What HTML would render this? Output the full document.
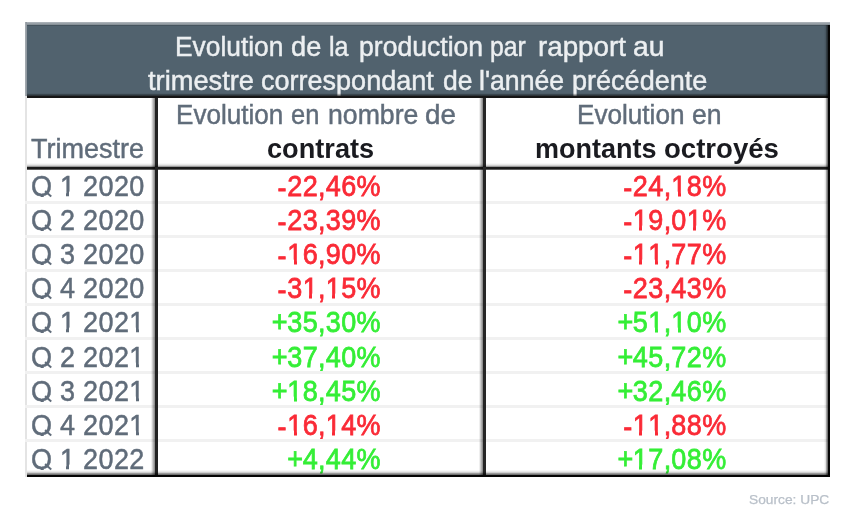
<!DOCTYPE html>
<html><head><meta charset="utf-8"><style>
html,body{margin:0;padding:0;background:#fff;width:843px;height:528px;overflow:hidden;}
body{position:relative;font-family:"Liberation Sans",sans-serif;}
.t{position:absolute;white-space:nowrap;line-height:1;transform-origin:0 0;-webkit-text-stroke:0.45px currentColor;}
body{filter:blur(0.7px);}
.r{position:absolute;}
.o{position:relative;}
.c{display:inline-block;}
.h{position:relative;top:2px;}
.q{position:relative;}
.q::after{content:"";position:absolute;background:#fff;left:8px;width:14px;height:6px;bottom:var(--qb,-1.6px);}
.q::before{content:"";position:absolute;background:currentColor;left:13.4px;width:8.2px;height:2.4px;bottom:var(--qt,5.4px);transform:rotate(39deg);z-index:1;}
.o::before,.o::after{content:"";position:absolute;background:#fff;height:4.6px;bottom:4.4px;}
.o::before{left:0.4px;width:6.05px;}
.o::after{left:9.5px;width:5.4px;}
</style></head><body>
<div class="r" style="left:25px;top:22px;width:805px;height:74px;background:#51626e;"></div>
<div class="r" style="left:25px;top:25px;width:805px;height:1px;background:#46545e;"></div>
<div class="r" style="left:25px;top:22px;width:805px;height:3px;background:linear-gradient(to bottom,#b2b8bd,#7f8991);"></div>
<div class="r" style="left:25px;top:22px;width:2px;height:74px;background:linear-gradient(to right,#a9afb5,#8a939a);"></div>
<div class="r" style="left:25px;top:96px;width:2px;height:381px;background:#e4e4e4;"></div>
<div class="t" style="left:175.24px;top:33.94px;font-size:27px;color:#eceff1;font-weight:normal;transform-origin:0 22.86px;transform:scale(0.9757,1.05);">Evolution</div>
<div class="t" style="left:290.76px;top:33.94px;font-size:27px;color:#eceff1;font-weight:normal;transform-origin:0 22.86px;transform:scale(1.0073,1.05);">de</div>
<div class="t" style="left:329.41px;top:33.94px;font-size:27px;color:#eceff1;font-weight:normal;transform-origin:0 22.86px;transform:scale(0.9273,1.05);">la</div>
<div class="t" style="left:358.59px;top:33.94px;font-size:27px;color:#eceff1;font-weight:normal;transform-origin:0 22.86px;transform:scale(0.9845,1.05);">production</div>
<div class="t" style="left:490.40px;top:33.94px;font-size:27px;color:#eceff1;font-weight:normal;transform-origin:0 22.86px;transform:scale(0.9176,1.05);">par</div>
<div class="t" style="left:537.56px;top:33.94px;font-size:27px;color:#eceff1;font-weight:normal;transform-origin:0 22.86px;transform:scale(1.028,1.05);">rapport</div>
<div class="t" style="left:633.00px;top:33.94px;font-size:27px;color:#eceff1;font-weight:normal;transform-origin:0 22.86px;transform:scale(1.0483,1.05);">au</div>
<div class="t" style="left:148.09px;top:67.94px;font-size:27px;color:#eceff1;font-weight:normal;transform-origin:0 22.86px;transform:scale(1.0097,1.05);">trimestre</div>
<div class="t" style="left:261.25px;top:67.94px;font-size:27px;color:#eceff1;font-weight:normal;transform-origin:0 22.86px;transform:scale(1.0008,1.05);">correspondant</div>
<div class="t" style="left:442.89px;top:67.94px;font-size:27px;color:#eceff1;font-weight:normal;transform-origin:0 22.86px;transform:scale(0.982,1.05);">de</div>
<div class="t" style="left:479.11px;top:67.94px;font-size:27px;color:#eceff1;font-weight:normal;transform-origin:0 22.86px;transform:scale(0.9866,1.05);">l'année</div>
<div class="t" style="left:572.46px;top:67.94px;font-size:27px;color:#eceff1;font-weight:normal;transform-origin:0 22.86px;transform:scale(1.0018,1.05);">précédente</div>
<div class="t" style="left:31.00px;top:136.24px;font-size:27px;color:#606c7a;font-weight:normal;transform-origin:0 22.86px;transform:scale(1.0,1.05);">Trimestre</div>
<div class="t" style="left:175.86px;top:102.24px;font-size:27px;color:#606c7a;font-weight:normal;transform-origin:0 22.86px;transform:scale(0.9654,1.05);">Evolution</div>
<div class="t" style="left:291.22px;top:102.24px;font-size:27px;color:#606c7a;font-weight:normal;transform-origin:0 22.86px;transform:scale(0.9435,1.05);">en</div>
<div class="t" style="left:327.53px;top:102.24px;font-size:27px;color:#606c7a;font-weight:normal;transform-origin:0 22.86px;transform:scale(0.987,1.05);">nombre</div>
<div class="t" style="left:425.43px;top:102.24px;font-size:27px;color:#606c7a;font-weight:normal;transform-origin:0 22.86px;transform:scale(1.0289,1.05);">de</div>
<div class="t" style="left:266.84px;top:135.54px;font-size:27px;color:#1a1b20;font-weight:bold;transform-origin:0 22.86px;transform:scale(1.0061,1.05);-webkit-text-stroke:0px currentColor;">contrats</div>
<div class="t" style="left:576.96px;top:102.24px;font-size:27px;color:#606c7a;font-weight:normal;transform-origin:0 22.86px;transform:scale(0.9673,1.05);">Evolution</div>
<div class="t" style="left:691.57px;top:102.24px;font-size:27px;color:#606c7a;font-weight:normal;transform-origin:0 22.86px;transform:scale(0.9841,1.05);">en</div>
<div class="t" style="left:534.92px;top:135.54px;font-size:27px;color:#1a1b20;font-weight:bold;transform-origin:0 22.86px;transform:scale(0.9999,1.05);-webkit-text-stroke:0px currentColor;">montants</div>
<div class="t" style="left:663.82px;top:135.54px;font-size:27px;color:#1a1b20;font-weight:bold;transform-origin:0 22.86px;transform:scale(1.021,1.05);-webkit-text-stroke:0px currentColor;">octroyés</div>
<div class="t" style="left:31.00px;top:174.04px;font-size:27px;color:#606c7a;font-weight:normal;transform-origin:0 22.86px;transform:scale(1.0,1.08);"><span class="c q" style="width:21.214px">Q</span><span class="c" style="width:7.714px">&nbsp;</span><span class="c o" style="width:15.429px">1</span><span class="c" style="width:7.714px">&nbsp;</span><span class="c" style="width:15.429px">2</span><span class="c" style="width:15.429px">0</span><span class="c" style="width:15.429px">2</span><span class="c" style="width:15.429px">0</span></div>
<div class="t" style="left:277.58px;top:174.04px;font-size:27px;color:#fa2a36;font-weight:normal;transform-origin:0 22.86px;transform:scale(1.0,1.08);-webkit-text-stroke:0.7px currentColor;"><span class="c h" style="width:9.643px">-</span><span class="c" style="width:15.429px">2</span><span class="c" style="width:15.429px">2</span><span class="c" style="width:7.714px">,</span><span class="c" style="width:15.429px">4</span><span class="c" style="width:15.429px">6</span><span class="c" style="width:23.143px">%</span></div>
<div class="t" style="left:623.18px;top:174.04px;font-size:27px;color:#fa2a36;font-weight:normal;transform-origin:0 22.86px;transform:scale(1.0,1.08);-webkit-text-stroke:0.7px currentColor;"><span class="c h" style="width:9.643px">-</span><span class="c" style="width:15.429px">2</span><span class="c" style="width:15.429px">4</span><span class="c" style="width:7.714px">,</span><span class="c o" style="width:15.429px">1</span><span class="c" style="width:15.429px">8</span><span class="c" style="width:23.143px">%</span></div>
<div class="t" style="left:31.00px;top:208.14px;font-size:27px;color:#606c7a;font-weight:normal;transform-origin:0 22.86px;transform:scale(1.0,1.08);"><span class="c q" style="width:21.214px">Q</span><span class="c" style="width:7.714px">&nbsp;</span><span class="c" style="width:15.429px">2</span><span class="c" style="width:7.714px">&nbsp;</span><span class="c" style="width:15.429px">2</span><span class="c" style="width:15.429px">0</span><span class="c" style="width:15.429px">2</span><span class="c" style="width:15.429px">0</span></div>
<div class="t" style="left:277.58px;top:208.14px;font-size:27px;color:#fa2a36;font-weight:normal;transform-origin:0 22.86px;transform:scale(1.0,1.08);-webkit-text-stroke:0.7px currentColor;"><span class="c h" style="width:9.643px">-</span><span class="c" style="width:15.429px">2</span><span class="c" style="width:15.429px">3</span><span class="c" style="width:7.714px">,</span><span class="c" style="width:15.429px">3</span><span class="c" style="width:15.429px">9</span><span class="c" style="width:23.143px">%</span></div>
<div class="t" style="left:623.18px;top:208.14px;font-size:27px;color:#fa2a36;font-weight:normal;transform-origin:0 22.86px;transform:scale(1.0,1.08);-webkit-text-stroke:0.7px currentColor;"><span class="c h" style="width:9.643px">-</span><span class="c o" style="width:15.429px">1</span><span class="c" style="width:15.429px">9</span><span class="c" style="width:7.714px">,</span><span class="c" style="width:15.429px">0</span><span class="c o" style="width:15.429px">1</span><span class="c" style="width:23.143px">%</span></div>
<div class="t" style="left:31.00px;top:242.24px;font-size:27px;color:#606c7a;font-weight:normal;transform-origin:0 22.86px;transform:scale(1.0,1.08);"><span class="c q" style="width:21.214px">Q</span><span class="c" style="width:7.714px">&nbsp;</span><span class="c" style="width:15.429px">3</span><span class="c" style="width:7.714px">&nbsp;</span><span class="c" style="width:15.429px">2</span><span class="c" style="width:15.429px">0</span><span class="c" style="width:15.429px">2</span><span class="c" style="width:15.429px">0</span></div>
<div class="t" style="left:277.58px;top:242.24px;font-size:27px;color:#fa2a36;font-weight:normal;transform-origin:0 22.86px;transform:scale(1.0,1.08);-webkit-text-stroke:0.7px currentColor;"><span class="c h" style="width:9.643px">-</span><span class="c o" style="width:15.429px">1</span><span class="c" style="width:15.429px">6</span><span class="c" style="width:7.714px">,</span><span class="c" style="width:15.429px">9</span><span class="c" style="width:15.429px">0</span><span class="c" style="width:23.143px">%</span></div>
<div class="t" style="left:623.18px;top:242.24px;font-size:27px;color:#fa2a36;font-weight:normal;transform-origin:0 22.86px;transform:scale(1.0,1.08);-webkit-text-stroke:0.7px currentColor;"><span class="c h" style="width:9.643px">-</span><span class="c o" style="width:15.429px">1</span><span class="c o" style="width:15.429px">1</span><span class="c" style="width:7.714px">,</span><span class="c" style="width:15.429px">7</span><span class="c" style="width:15.429px">7</span><span class="c" style="width:23.143px">%</span></div>
<div class="t" style="left:31.00px;top:276.34px;font-size:27px;color:#606c7a;font-weight:normal;transform-origin:0 22.86px;transform:scale(1.0,1.08);"><span class="c q" style="width:21.214px">Q</span><span class="c" style="width:7.714px">&nbsp;</span><span class="c" style="width:15.429px">4</span><span class="c" style="width:7.714px">&nbsp;</span><span class="c" style="width:15.429px">2</span><span class="c" style="width:15.429px">0</span><span class="c" style="width:15.429px">2</span><span class="c" style="width:15.429px">0</span></div>
<div class="t" style="left:277.58px;top:276.34px;font-size:27px;color:#fa2a36;font-weight:normal;transform-origin:0 22.86px;transform:scale(1.0,1.08);-webkit-text-stroke:0.7px currentColor;"><span class="c h" style="width:9.643px">-</span><span class="c" style="width:15.429px">3</span><span class="c o" style="width:15.429px">1</span><span class="c" style="width:7.714px">,</span><span class="c o" style="width:15.429px">1</span><span class="c" style="width:15.429px">5</span><span class="c" style="width:23.143px">%</span></div>
<div class="t" style="left:623.18px;top:276.34px;font-size:27px;color:#fa2a36;font-weight:normal;transform-origin:0 22.86px;transform:scale(1.0,1.08);-webkit-text-stroke:0.7px currentColor;"><span class="c h" style="width:9.643px">-</span><span class="c" style="width:15.429px">2</span><span class="c" style="width:15.429px">3</span><span class="c" style="width:7.714px">,</span><span class="c" style="width:15.429px">4</span><span class="c" style="width:15.429px">3</span><span class="c" style="width:23.143px">%</span></div>
<div class="t" style="left:31.00px;top:310.44px;font-size:27px;color:#606c7a;font-weight:normal;transform-origin:0 22.86px;transform:scale(1.0,1.08);"><span class="c q" style="width:21.214px">Q</span><span class="c" style="width:7.714px">&nbsp;</span><span class="c o" style="width:15.429px">1</span><span class="c" style="width:7.714px">&nbsp;</span><span class="c" style="width:15.429px">2</span><span class="c" style="width:15.429px">0</span><span class="c" style="width:15.429px">2</span><span class="c o" style="width:15.429px">1</span></div>
<div class="t" style="left:271.80px;top:310.44px;font-size:27px;color:#34ee36;font-weight:normal;transform-origin:0 22.86px;transform:scale(1.0,1.08);-webkit-text-stroke:0.7px currentColor;"><span class="c" style="width:15.429px">+</span><span class="c" style="width:15.429px">3</span><span class="c" style="width:15.429px">5</span><span class="c" style="width:7.714px">,</span><span class="c" style="width:15.429px">3</span><span class="c" style="width:15.429px">0</span><span class="c" style="width:23.143px">%</span></div>
<div class="t" style="left:617.40px;top:310.44px;font-size:27px;color:#34ee36;font-weight:normal;transform-origin:0 22.86px;transform:scale(1.0,1.08);-webkit-text-stroke:0.7px currentColor;"><span class="c" style="width:15.429px">+</span><span class="c" style="width:15.429px">5</span><span class="c o" style="width:15.429px">1</span><span class="c" style="width:7.714px">,</span><span class="c o" style="width:15.429px">1</span><span class="c" style="width:15.429px">0</span><span class="c" style="width:23.143px">%</span></div>
<div class="t" style="left:31.00px;top:344.54px;font-size:27px;color:#606c7a;font-weight:normal;transform-origin:0 22.86px;transform:scale(1.0,1.08);"><span class="c q" style="width:21.214px">Q</span><span class="c" style="width:7.714px">&nbsp;</span><span class="c" style="width:15.429px">2</span><span class="c" style="width:7.714px">&nbsp;</span><span class="c" style="width:15.429px">2</span><span class="c" style="width:15.429px">0</span><span class="c" style="width:15.429px">2</span><span class="c o" style="width:15.429px">1</span></div>
<div class="t" style="left:271.80px;top:344.54px;font-size:27px;color:#34ee36;font-weight:normal;transform-origin:0 22.86px;transform:scale(1.0,1.08);-webkit-text-stroke:0.7px currentColor;"><span class="c" style="width:15.429px">+</span><span class="c" style="width:15.429px">3</span><span class="c" style="width:15.429px">7</span><span class="c" style="width:7.714px">,</span><span class="c" style="width:15.429px">4</span><span class="c" style="width:15.429px">0</span><span class="c" style="width:23.143px">%</span></div>
<div class="t" style="left:617.40px;top:344.54px;font-size:27px;color:#34ee36;font-weight:normal;transform-origin:0 22.86px;transform:scale(1.0,1.08);-webkit-text-stroke:0.7px currentColor;"><span class="c" style="width:15.429px">+</span><span class="c" style="width:15.429px">4</span><span class="c" style="width:15.429px">5</span><span class="c" style="width:7.714px">,</span><span class="c" style="width:15.429px">7</span><span class="c" style="width:15.429px">2</span><span class="c" style="width:23.143px">%</span></div>
<div class="t" style="left:31.00px;top:378.64px;font-size:27px;color:#606c7a;font-weight:normal;transform-origin:0 22.86px;transform:scale(1.0,1.08);"><span class="c q" style="width:21.214px">Q</span><span class="c" style="width:7.714px">&nbsp;</span><span class="c" style="width:15.429px">3</span><span class="c" style="width:7.714px">&nbsp;</span><span class="c" style="width:15.429px">2</span><span class="c" style="width:15.429px">0</span><span class="c" style="width:15.429px">2</span><span class="c o" style="width:15.429px">1</span></div>
<div class="t" style="left:271.80px;top:378.64px;font-size:27px;color:#34ee36;font-weight:normal;transform-origin:0 22.86px;transform:scale(1.0,1.08);-webkit-text-stroke:0.7px currentColor;"><span class="c" style="width:15.429px">+</span><span class="c o" style="width:15.429px">1</span><span class="c" style="width:15.429px">8</span><span class="c" style="width:7.714px">,</span><span class="c" style="width:15.429px">4</span><span class="c" style="width:15.429px">5</span><span class="c" style="width:23.143px">%</span></div>
<div class="t" style="left:617.40px;top:378.64px;font-size:27px;color:#34ee36;font-weight:normal;transform-origin:0 22.86px;transform:scale(1.0,1.08);-webkit-text-stroke:0.7px currentColor;"><span class="c" style="width:15.429px">+</span><span class="c" style="width:15.429px">3</span><span class="c" style="width:15.429px">2</span><span class="c" style="width:7.714px">,</span><span class="c" style="width:15.429px">4</span><span class="c" style="width:15.429px">6</span><span class="c" style="width:23.143px">%</span></div>
<div class="t" style="left:31.00px;top:412.74px;font-size:27px;color:#606c7a;font-weight:normal;transform-origin:0 22.86px;transform:scale(1.0,1.08);"><span class="c q" style="width:21.214px">Q</span><span class="c" style="width:7.714px">&nbsp;</span><span class="c" style="width:15.429px">4</span><span class="c" style="width:7.714px">&nbsp;</span><span class="c" style="width:15.429px">2</span><span class="c" style="width:15.429px">0</span><span class="c" style="width:15.429px">2</span><span class="c o" style="width:15.429px">1</span></div>
<div class="t" style="left:277.58px;top:412.74px;font-size:27px;color:#fa2a36;font-weight:normal;transform-origin:0 22.86px;transform:scale(1.0,1.08);-webkit-text-stroke:0.7px currentColor;"><span class="c h" style="width:9.643px">-</span><span class="c o" style="width:15.429px">1</span><span class="c" style="width:15.429px">6</span><span class="c" style="width:7.714px">,</span><span class="c o" style="width:15.429px">1</span><span class="c" style="width:15.429px">4</span><span class="c" style="width:23.143px">%</span></div>
<div class="t" style="left:623.18px;top:412.74px;font-size:27px;color:#fa2a36;font-weight:normal;transform-origin:0 22.86px;transform:scale(1.0,1.08);-webkit-text-stroke:0.7px currentColor;"><span class="c h" style="width:9.643px">-</span><span class="c o" style="width:15.429px">1</span><span class="c o" style="width:15.429px">1</span><span class="c" style="width:7.714px">,</span><span class="c" style="width:15.429px">8</span><span class="c" style="width:15.429px">8</span><span class="c" style="width:23.143px">%</span></div>
<div class="t" style="left:31.00px;top:446.84px;font-size:27px;color:#606c7a;font-weight:normal;transform-origin:0 22.86px;transform:scale(1.0,1.08);"><span class="c q" style="width:21.214px">Q</span><span class="c" style="width:7.714px">&nbsp;</span><span class="c o" style="width:15.429px">1</span><span class="c" style="width:7.714px">&nbsp;</span><span class="c" style="width:15.429px">2</span><span class="c" style="width:15.429px">0</span><span class="c" style="width:15.429px">2</span><span class="c" style="width:15.429px">2</span></div>
<div class="t" style="left:287.23px;top:446.84px;font-size:27px;color:#34ee36;font-weight:normal;transform-origin:0 22.86px;transform:scale(1.0,1.08);-webkit-text-stroke:0.7px currentColor;"><span class="c" style="width:15.429px">+</span><span class="c" style="width:15.429px">4</span><span class="c" style="width:7.714px">,</span><span class="c" style="width:15.429px">4</span><span class="c" style="width:15.429px">4</span><span class="c" style="width:23.143px">%</span></div>
<div class="t" style="left:617.40px;top:446.84px;font-size:27px;color:#34ee36;font-weight:normal;transform-origin:0 22.86px;transform:scale(1.0,1.08);-webkit-text-stroke:0.7px currentColor;"><span class="c" style="width:15.429px">+</span><span class="c o" style="width:15.429px">1</span><span class="c" style="width:15.429px">7</span><span class="c" style="width:7.714px">,</span><span class="c" style="width:15.429px">0</span><span class="c" style="width:15.429px">8</span><span class="c" style="width:23.143px">%</span></div>
<div class="t" style="left:749.30px;top:494.22px;font-size:12.5px;color:#b9c0c9;font-weight:normal;transform-origin:0 10.58px;transform:scale(1.1,1.0);-webkit-text-stroke:0.25px currentColor;">Source: UPC</div>
<div class="r" style="left:25px;top:201px;width:805px;height:3px;background:#f1f1f1;"></div>
<div class="r" style="left:25px;top:235px;width:805px;height:3px;background:#f1f1f1;"></div>
<div class="r" style="left:25px;top:269px;width:805px;height:3px;background:#f1f1f1;"></div>
<div class="r" style="left:25px;top:303px;width:805px;height:3px;background:#f1f1f1;"></div>
<div class="r" style="left:25px;top:337px;width:805px;height:3px;background:#f1f1f1;"></div>
<div class="r" style="left:25px;top:371px;width:805px;height:3px;background:#f1f1f1;"></div>
<div class="r" style="left:25px;top:405px;width:805px;height:3px;background:#f1f1f1;"></div>
<div class="r" style="left:25px;top:439px;width:805px;height:3px;background:#f1f1f1;"></div>
<div class="r" style="left:27px;top:95px;width:803px;height:3px;background:linear-gradient(to bottom,rgba(20,20,20,.6) 0 1px,#161616 1px);"></div>
<div class="r" style="left:27px;top:167px;width:803px;height:3px;background:linear-gradient(to bottom,#1a1a1a 0 2px,rgba(26,26,26,.7) 2px);"></div>
<div class="r" style="left:155px;top:98px;width:3px;height:379px;background:#222;"></div>
<div class="r" style="left:483px;top:98px;width:3px;height:379px;background:#262626;"></div>
<div class="r" style="left:827px;top:25px;width:3px;height:452px;background:linear-gradient(to right,rgba(0,0,0,.55) 0 1px,#050505 1px);"></div>
<div class="r" style="left:27px;top:474px;width:803px;height:3px;background:linear-gradient(to bottom,rgba(0,0,0,.55) 0 1px,#050505 1px);"></div>
<div class="r" style="left:27px;top:93px;width:803px;height:2px;background:linear-gradient(to bottom,rgba(0,0,0,0),rgba(0,0,0,.12) 55%,rgba(0,0,0,0.5));"></div>
<div class="r" style="left:27px;top:163px;width:803px;height:4px;background:linear-gradient(to bottom,rgba(0,0,0,0),rgba(0,0,0,.12) 55%,rgba(0,0,0,0.5));"></div>
<div class="r" style="left:151px;top:98px;width:4px;height:379px;background:linear-gradient(to right,rgba(0,0,0,0),rgba(0,0,0,0.5));"></div>
<div class="r" style="left:479px;top:98px;width:4px;height:379px;background:linear-gradient(to right,rgba(0,0,0,0),rgba(0,0,0,0.5));"></div>
<div class="r" style="left:824px;top:25px;width:3px;height:452px;background:linear-gradient(to right,rgba(0,0,0,0),rgba(0,0,0,.12) 55%,rgba(0,0,0,0.5));"></div>
<div class="r" style="left:27px;top:469.5px;width:803px;height:4.5px;background:linear-gradient(to bottom,rgba(0,0,0,0),rgba(0,0,0,.12) 55%,rgba(0,0,0,0.5));"></div>
</body></html>
